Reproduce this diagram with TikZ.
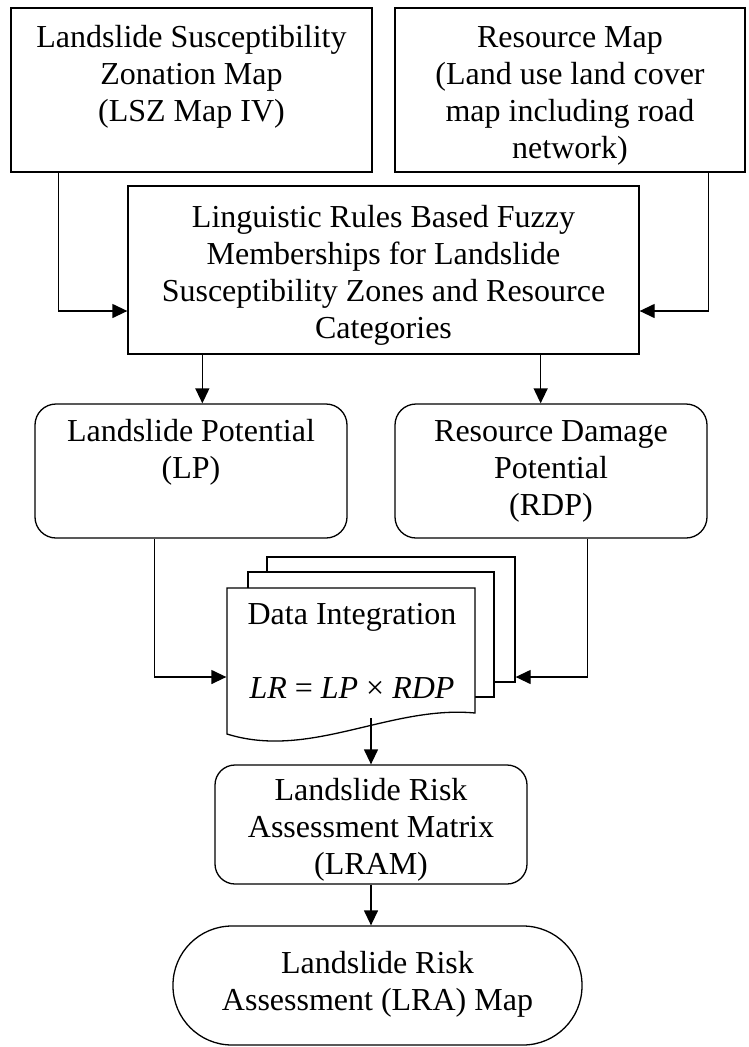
\documentclass[tikz,border=0pt]{standalone}
\usepackage{fontspec}
\setmainfont{Liberation Serif}
\usetikzlibrary{arrows.meta,calc}

% centred block of lines whose reference point is the first baseline
\newcommand{\flowtext}[2]{\parbox[t]{#1}{\centering\fontsize{32}{37}\selectfont #2}}

\begin{document}
\begin{tikzpicture}[x=1pt,y=-1pt,
  line width=1.3pt,
  box/.style={draw, rectangle, inner sep=0pt},
  rbox/.style={draw, rectangle, rounded corners=21pt, inner sep=0pt},
  term/.style={draw, rectangle, rounded corners=59pt, inner sep=0pt},
  ghost/.style={rectangle, inner sep=0pt},
  txt/.style={anchor=base, inner sep=0pt},
  arr/.style={-{Triangle[length=15pt,width=14pt]}}]

\useasboundingbox (0,0) rectangle (748,1047);

% input maps
\node[box, minimum width=361pt, minimum height=164pt] (lsz) at (191.5,90) {};
\node[box, minimum width=350pt, minimum height=164pt] (res) at (570,90) {};
\node[txt] (lszt) at (191.5,47) {\flowtext{355pt}{Landslide Susceptibility\\Zonation Map\\(LSZ Map IV)}};
\node[txt] (rest) at (570,47) {\flowtext{345pt}{Resource Map\\(Land use land cover\\map including road\\network)}};

% fuzzy membership step
\node[box, minimum width=511pt, minimum height=168pt] (fuz) at (383.5,270) {};
\node[txt] (fuzt) at (383.5,227) {\flowtext{505pt}{Linguistic Rules Based Fuzzy\\Memberships for Landslide\\Susceptibility Zones and Resource\\Categories}};

% potentials
\node[rbox, minimum width=312pt, minimum height=134pt] (lp) at (191,471) {};
\node[rbox, minimum width=312pt, minimum height=134pt] (rdp) at (551,471) {};
\node[txt] (lpt) at (191,441) {\flowtext{305pt}{Landslide Potential\\(LP)}};
\node[txt] (rdpt) at (551,441) {\flowtext{305pt}{Resource Damage\\Potential\\(RDP)}};

% data integration: stacked documents
\draw (267,572) -- (267,557) -- (515,557) -- (515,682) -- (494,682);
\draw (248,588) -- (248,572) -- (494,572) -- (494,697) -- (475,697);
\draw[fill=white] (227,588) -- (475,588) -- (475,713)
  .. controls (390,705) and (310,760) .. (227,734) -- cycle;
\node[ghost, minimum width=248pt, minimum height=125pt] (doc) at (351,650.5) {};
\node[ghost, minimum width=248pt, minimum height=125pt] (doc3) at (391,619.5) {};
\node[txt] (doct) at (352,624) {\flowtext{240pt}{Data Integration\\[37pt]\textit{LR} = \textit{LP} × \textit{RDP}}};
\coordinate (docout) at (371,718);

% risk matrix and final map
\node[rbox, minimum width=312pt, minimum height=119pt, rounded corners=20pt] (lram) at (371,824.5) {};
\node[txt] (lramt) at (371,800) {\flowtext{305pt}{Landslide Risk\\Assessment Matrix\\(LRAM)}};
\node[term, minimum width=409pt, minimum height=119pt] (lra) at (377.5,985.5) {};
\node[txt] (lrat) at (377.5,973) {\flowtext{400pt}{Landslide Risk\\Assessment (LRA) Map}};

% connectors
\draw[arr] ([xshift=48pt]lsz.south west) |- ([yshift=-41pt]fuz.west);
\draw[arr] ([xshift=-37pt]res.south east) |- ([yshift=-41pt]fuz.east);
\draw[arr] ([xshift=75pt]fuz.south west) -- ([xshift=75pt]fuz.south west |- lp.north);
\draw[arr] ([xshift=-99pt]fuz.south east) -- ([xshift=-99pt]fuz.south east |- rdp.north);
\draw[arr] ([xshift=120pt]lp.south west) |- ([yshift=-26.5pt]doc.west);
\draw[arr] ([xshift=-120pt]rdp.south east) |- ([yshift=-57.5pt]doc3.east);
\draw[arr] (docout) -- (lram.north);
\draw[arr] (lram.south) -- (lram.south |- lra.north);

\end{tikzpicture}
\end{document}
